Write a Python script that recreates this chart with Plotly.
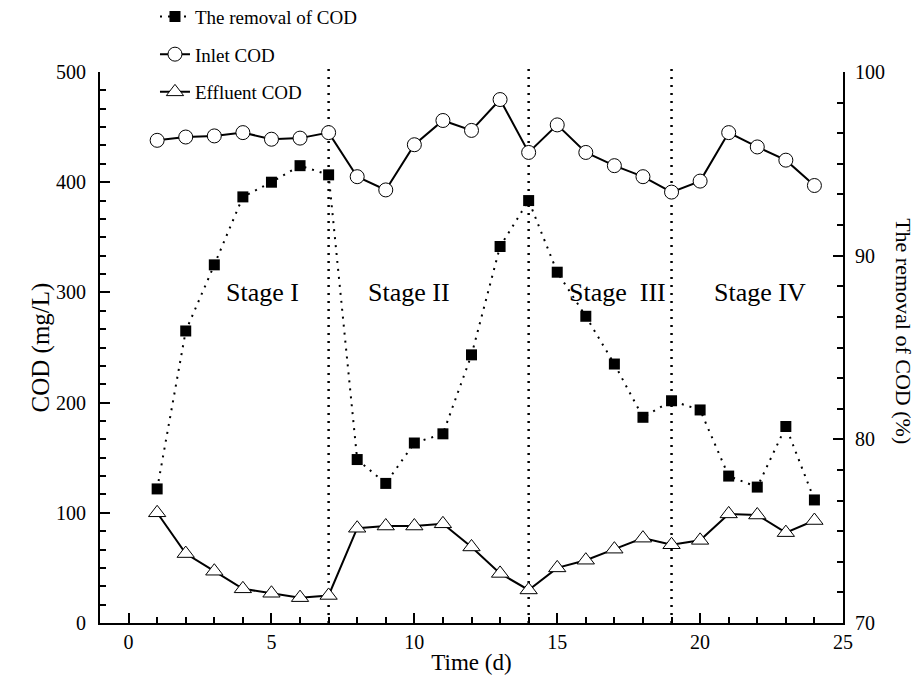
import plotly.graph_objects as go

days = list(range(1, 25))
inlet_cod = [438, 441, 442, 445, 439, 440, 445, 405, 393, 434, 456, 447,
             475, 427, 452, 427, 415, 405, 391, 401, 445, 432, 420, 397]
effluent_cod = [100, 63, 47, 31, 27, 23, 25, 86, 88, 88, 90, 69,
                45, 30, 50, 57, 67, 77, 71, 75, 99, 98, 82, 93]
removal_pct = [77.3, 85.9, 89.5, 93.2, 94.0, 94.9, 94.4, 78.9, 77.6, 79.8, 80.3, 84.6,
               90.5, 93.0, 89.1, 86.7, 84.1, 81.2, 82.1, 81.6, 78.0, 77.4, 80.7, 76.7]
stage_bounds = [7, 14, 19]
stage_labels = ["Stage I", "Stage II", "Stage\u00a0 III", "Stage IV"]
stage_label_x = [4.7, 9.8, 17.1, 22.1]
stage_label_y = [300, 300, 300, 300]

FONT = "Liberation Serif, Times New Roman, serif"
DOT = "2px,6px"

fig = go.Figure()

fig.add_trace(go.Scatter(
    x=days, y=removal_pct, name="The removal of COD", yaxis="y2",
    mode="lines+markers", legendgroup="a",
    line=dict(color="black", width=2, dash=DOT),
    marker=dict(symbol="square", size=11, color="black"),
))
fig.add_trace(go.Scatter(
    x=days, y=inlet_cod, name="Inlet COD",
    mode="lines+markers", legendgroup="b",
    line=dict(color="black", width=2),
    marker=dict(symbol="circle", size=14, color="white",
                line=dict(color="black", width=1)),
))
fig.add_trace(go.Scatter(
    x=days, y=effluent_cod, name="Effluent COD",
    mode="lines+markers", legendgroup="c",
    line=dict(color="black", width=2),
    marker=dict(symbol="triangle-up", size=15, color="white",
                line=dict(color="black", width=1)),
))

for b in stage_bounds:
    fig.add_shape(type="line", xref="x", yref="paper", x0=b, x1=b, y0=0, y1=1.016,
                  line=dict(color="black", width=2.5, dash="2px,6px"), layer="below")

for txt, sx, sy in zip(stage_labels, stage_label_x, stage_label_y):
    fig.add_annotation(x=sx, y=sy, xref="x", yref="y", text=txt, showarrow=False,
                       font=dict(family=FONT, size=26, color="black"))

fig.add_annotation(x=-0.101, y=0.5, xref="paper", yref="paper",
                   text="COD (mg/L)", textangle=-90, showarrow=False,
                   font=dict(family=FONT, size=25, color="black"))
fig.add_annotation(x=1.1, y=0.53, xref="paper", yref="paper",
                   text="The removal of COD (%)", textangle=90, showarrow=False,
                   font=dict(family=FONT, size=22, color="black"))

axis_common = dict(showgrid=False, zeroline=False, showline=True, linecolor="black",
                   linewidth=2, ticks="inside", ticklen=10, tickwidth=2,
                   tickcolor="black",
                   tickfont=dict(family=FONT, size=20, color="black"))

fig.update_layout(
    width=920, height=684,
    margin=dict(l=92, r=85, t=64, b=69, autoexpand=False),
    paper_bgcolor="white", plot_bgcolor="white",
    font=dict(family=FONT, color="black"),
    showlegend=True,
    legend=dict(x=0.074, y=1.135, xanchor="left", yanchor="top",
                bgcolor="rgba(0,0,0,0)", tracegroupgap=10,
                font=dict(family=FONT, size=19, color="black")),
    xaxis=dict(range=[-1, 25], tick0=0, dtick=5,
               title=dict(text="Time (d)", font=dict(family=FONT, size=23), standoff=2),
               ticklabelstandoff=0,
               minor=dict(dtick=1, tick0=0, ticks="inside", ticklen=6,
                          tickwidth=2, tickcolor="black"),
               **axis_common),
    yaxis=dict(range=[0, 500], tick0=0, dtick=100,
               ticklabelstandoff=8,
               minor=dict(dtick=100 / 6, tick0=0, ticks="inside", ticklen=6,
                          tickwidth=2, tickcolor="black"),
               **axis_common),
    yaxis2=dict(range=[70, 100], tick0=70, dtick=10, overlaying="y", side="right",
                ticklabelstandoff=6,
                minor=dict(dtick=10 / 6, tick0=70, ticks="inside", ticklen=6,
                           tickwidth=2, tickcolor="black"),
                **axis_common),
)

fig.write_html("out.html")
